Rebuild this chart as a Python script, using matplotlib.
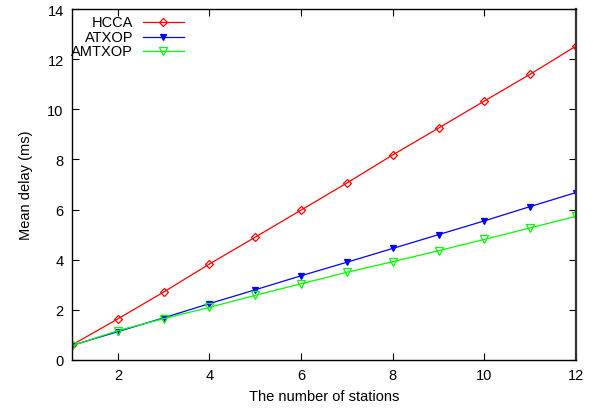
import matplotlib
matplotlib.use("Agg")
import matplotlib.pyplot as plt
from matplotlib.lines import Line2D

stations = [1, 2, 3, 4, 5, 6, 7, 8, 9, 10, 11, 12]
hcca = [0.60, 1.64, 2.71, 3.83, 4.90, 5.98, 7.06, 8.18, 9.25, 10.33, 11.40, 12.52]
atxop = [0.58, 1.13, 1.68, 2.25, 2.80, 3.36, 3.90, 4.45, 5.00, 5.55, 6.12, 6.68]
amtxop = [0.57, 1.17, 1.65, 2.10, 2.58, 3.04, 3.50, 3.92, 4.36, 4.81, 5.27, 5.73]
series_names = ["HCCA", "ATXOP", "AMTXOP"]

plt.rcParams['font.family'] = ['Liberation Sans', 'DejaVu Sans']
fig = plt.figure(figsize=(5.94, 4.10), dpi=100)
ax = fig.add_axes([72/594, 1 - 361/410, (576-72)/594, (361-10)/410])

styles = [
    dict(color='#ff0000', marker='D', markersize=4.5, markerfacecolor='none', markeredgewidth=0.9),
    dict(color='#0000ff', marker='v', markersize=5, markerfacecolor='#0000ff', markeredgewidth=0.9),
    dict(color='#00ff00', marker='v', markersize=6, markerfacecolor='none', markeredgewidth=0.9),
]
for vals, st in zip([hcca, atxop, amtxop], styles):
    ax.plot(stations, vals, linewidth=0.9, **st)

ax.set_xlim(1, 12)
ax.set_ylim(0, 14)
ax.set_xticks([2, 4, 6, 8, 10, 12])
ax.set_yticks([0, 2, 4, 6, 8, 10, 12, 14])
ax.tick_params(direction='in', length=5, width=0.8, top=True, right=True, labelsize=10.5, pad=6)
for s in ax.spines.values():
    s.set_linewidth(1.0)
ax.spines['right'].set_linewidth(1.6)
ax.spines['right'].set_color('#333333')

ax.set_xlabel("The number of stations", fontsize=10.5, labelpad=5)
ax.set_ylabel("Mean delay (ms)", fontsize=10.5, labelpad=10)

# gnuplot-style legend: right-aligned text, then sample
rows_y = [23, 38, 52]
for name, st, yp in zip(series_names, styles, rows_y):
    yf = 1 - yp/410
    fig.text(133/594, yf, name, ha='right', va='center', fontsize=10.5)
    fig.add_artist(Line2D([143/594, 184/594], [yf, yf], color=st['color'], linewidth=0.9,
                          transform=fig.transFigure))
    fig.add_artist(Line2D([163/594], [yf], linestyle='none', transform=fig.transFigure,
                          **{k: v for k, v in st.items()}))

fig.savefig("out.png", dpi=100)
